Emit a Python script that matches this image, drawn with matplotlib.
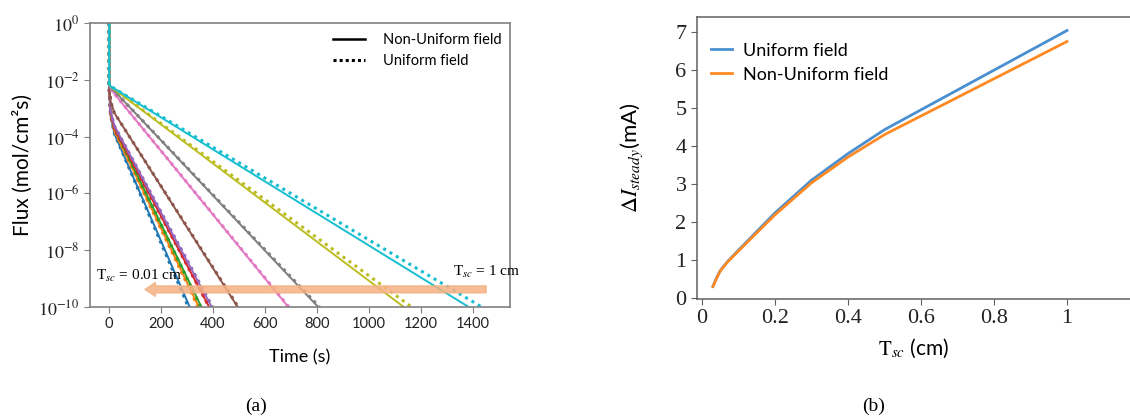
import numpy as np
import matplotlib
matplotlib.use("Agg")
import matplotlib.pyplot as plt
from matplotlib.ticker import FixedLocator, FuncFormatter

plt.rcParams['mathtext.fontset'] = 'stix'
plt.rcParams['font.family'] = ['Lato', 'DejaVu Sans']

# ---- panel (a): flux vs time, log10 of flux ----
curve_colors = ['#1f77b4', '#ff7f0e', '#2ca02c', '#d62728', '#9467bd',
                '#8c564b', '#e377c2', '#7f7f7f', '#bcbd22', '#17becf']

nu_t = [[0, 0, 5, 20, 310],
        [0, 0, 5, 20, 345],
        [0, 0, 5, 20, 355],
        [0, 0, 5, 20, 385],
        [0, 0, 5, 20, 395],
        [0, 0, 5, 20, 495],
        [0, 0, 10, 690],
        [0, 0, 805],
        [0, 0, 1135],
        [0, 0, 1385]]
nu_log = [[0, -2.3, -3.25, -3.9, -10],
          [0, -2.3, -3.2, -3.8, -10],
          [0, -2.25, -3.12, -3.7, -10],
          [0, -2.25, -3.15, -3.7, -10],
          [0, -2.25, -3.1, -3.62, -10],
          [0, -2.2, -2.75, -3.17, -10],
          [0, -2.2, -2.38, -10],
          [0, -2.2, -10],
          [0, -2.2, -10],
          [0, -2.2, -10]]

u_t = [[0, 0, 5, 20, 305],
       [0, 0, 5, 20, 342],
       [0, 0, 5, 20, 353],
       [0, 0, 5, 20, 385],
       [0, 0, 5, 20, 398],
       [0, 0, 5, 20, 497],
       [0, 0, 10, 692],
       [0, 0, 810],
       [0, 0, 1165],
       [0, 0, 1435]]
u_log = nu_log

ytick_exp = [0, -2, -4, -6, -8, -10]
xticks_a = [0, 200, 400, 600, 800, 1000, 1200, 1400]

# ---- panel (b): steady current difference vs thickness ----
tsc = [0.03, 0.04, 0.05, 0.07, 0.1, 0.2, 0.3, 0.4, 0.5, 1.0]
di_uniform = [0.31, 0.53, 0.72, 0.96, 1.26, 2.24, 3.10, 3.80, 4.43, 7.04]
di_nonuniform = [0.30, 0.52, 0.71, 0.95, 1.24, 2.19, 3.03, 3.71, 4.30, 6.75]

fig = plt.figure(figsize=(11.3, 4.18), dpi=100)
W, H = 1130, 418
ax1 = fig.add_axes([90 / W, 1 - 307 / H, 420 / W, 284 / H])
ax2 = fig.add_axes([697 / W, 1 - 299 / H, 433 / W, 282 / H])

spine_c = '#808080'

for i in range(10):
    ax1.plot(nu_t[i], 10.0 ** np.array(nu_log[i]), color=curve_colors[i], lw=1.4)
    ax1.plot(u_t[i], 10.0 ** np.array(u_log[i]), color=curve_colors[i], lw=2.2,
             linestyle=(0, (1, 1.4)))

ax1.set_yscale('log')
ax1.set_ylim(1e-10, 1)
ax1.set_xlim(-74, 1544)
ax1.yaxis.set_major_locator(FixedLocator([10.0 ** e for e in ytick_exp]))
ax1.yaxis.set_minor_locator(FixedLocator([]))
ax1.yaxis.set_major_formatter(FuncFormatter(lambda v, p: r'$10^{%d}$' % round(np.log10(v))))
ax1.set_xticks(xticks_a)
for lab in ax1.get_yticklabels():
    lab.set_fontsize(13)
for lab in ax1.get_xticklabels():
    lab.set_fontsize(10.5)
ax1.set_ylabel('Flux (mol/cm²s)', fontsize=15, labelpad=4)
ax1.set_xlabel('Time (s)', fontsize=13, labelpad=13)

# legend with black samples
ax1.plot([], [], color='black', lw=1.8, label='Non-Uniform field')
ax1.plot([], [], color='black', lw=2.2, linestyle=(0, (1, 1.0)), label='Uniform field')
h, l = ax1.get_legend_handles_labels()
ax1.legend(h[-2:], l[-2:], loc='upper left', bbox_to_anchor=(0.565, 0.985),
           frameon=False, fontsize=10.5, handlelength=2.2, handletextpad=1.2,
           borderaxespad=0, labelspacing=0.5)

# arrow and annotations
ax1.annotate('', xy=(138, 10 ** -9.38), xytext=(1452, 10 ** -9.38),
             arrowprops=dict(arrowstyle='simple,head_length=0.75,head_width=1.0,tail_width=0.5',
                             color='#f4b183', alpha=0.85, shrinkA=0, shrinkB=0,
                             mutation_scale=10), zorder=5)
ax1.text(-51, 10 ** -8.92, r'T$_{sc}$ = 0.01 cm', fontsize=11,
         family='Liberation Serif', va='center', ha='left')
ax1.text(1325, 10 ** -8.78, r'T$_{sc}$ = 1 cm', fontsize=11,
         family='Liberation Serif', va='center', ha='left')

for s in ax1.spines.values():
    s.set_color(spine_c)
    s.set_linewidth(1.2)
ax1.tick_params(colors=spine_c, labelcolor='#222222', length=4)

# panel (b)
ax2.plot(tsc, di_uniform, color='#4a8fd0', lw=2, label='Uniform field')
ax2.plot(tsc, di_nonuniform, color='#ff8a24', lw=2, label='Non-Uniform field')
ax2.set_xlim(-0.0137, 1.1726)
ax2.set_ylim(-0.026, 7.395)
ax2.set_xticks([0, 0.2, 0.4, 0.6, 0.8, 1.0])
ax2.set_xticklabels(['0', '0.2', '0.4', '0.6', '0.8', '1'])
ax2.set_yticks(range(8))
for lab in ax2.get_xticklabels() + ax2.get_yticklabels():
    lab.set_family('Liberation Serif')
    lab.set_fontsize(16)
ax2.set_ylabel(r'$\Delta I_{steady}$(mA)', fontsize=16, labelpad=22)
ax2.set_xlabel(r'$\mathrm{T}_{sc}$ (cm)', fontsize=15, labelpad=6)
ax2.legend(loc='upper left', bbox_to_anchor=(0.015, 0.935), frameon=False,
           fontsize=13, handlelength=1.2, handletextpad=0.6, borderaxespad=0,
           labelspacing=0.45)
ax2.spines['right'].set_visible(False)
for s in ['left', 'top', 'bottom']:
    ax2.spines[s].set_color('#606060')
    ax2.spines[s].set_linewidth(1.1)
ax2.tick_params(colors='#606060', labelcolor='#222222', length=4)

fig.text(256 / W, 1 - 406 / H, '(a)', family='Liberation Serif', fontsize=14,
         ha='center', va='center')
fig.text(874 / W, 1 - 406 / H, '(b)', family='Liberation Serif', fontsize=14,
         ha='center', va='center')

fig.savefig('out.png', dpi=100)
